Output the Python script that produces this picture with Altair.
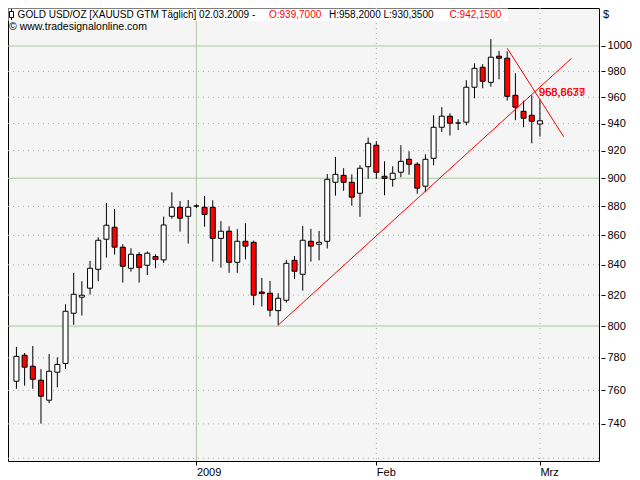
import altair as alt
import pandas as pd

# ---------------- data ----------------
dates = pd.bdate_range("2008-12-02", "2009-03-02").strftime("%d.%m.%Y").tolist()

opens = [765.6, 781.6, 774.8, 766.2, 754.1, 771.1, 776.5, 808.2, 818.6, 824.5,
         837.0, 857.3, 865.5, 851.9, 837.7, 846.9, 839.7, 845.6, 843.3, 873.1,
         879.4, 873.1, 880.3, 879.4, 879.4, 857.9, 862.8, 841.7, 855.9, 855.2,
         822.0, 821.2, 809.9, 816.6, 843.0, 833.7, 855.9, 853.9, 855.9, 897.1,
         902.1, 897.1, 889.3, 908.3, 924.0, 901.4, 899.2, 904.3, 913.7, 910.1,
         894.3, 914.4, 937.3, 945.6, 940.5, 941.1, 967.7, 983.2, 971.5, 991.9,
         990.3, 961.5, 949.3, 946.3, 939.7]
highs = [786.8, 783.0, 787.4, 773.0, 782.4, 780.3, 814.0, 834.6, 829.1, 842.6,
         858.6, 882.4, 878.2, 853.9, 851.2, 848.5, 849.0, 847.1, 872.9, 890.0,
         883.8, 884.5, 881.5, 887.3, 884.3, 869.7, 866.2, 864.2, 868.3, 856.3,
         831.3, 829.3, 821.2, 843.3, 845.9, 866.4, 864.4, 863.0, 903.0, 915.4,
         907.2, 902.8, 909.4, 929.6, 927.0, 912.2, 908.6, 924.0, 919.5, 911.5,
         917.3, 946.3, 952.4, 947.8, 943.3, 973.1, 986.3, 985.6, 1005.5, 996.1,
         995.8, 978.5, 957.4, 961.5, 958.2]
lows = [761.0, 762.9, 761.0, 740.1, 752.3, 761.9, 773.1, 800.8, 806.7, 820.3,
        829.1, 844.8, 846.9, 828.2, 835.4, 828.2, 833.2, 837.7, 841.2, 871.5,
        862.5, 854.3, 878.9, 865.9, 842.1, 838.1, 834.7, 834.7, 843.6, 813.4,
        812.5, 806.1, 800.4, 815.1, 830.6, 822.9, 842.1, 843.0, 851.0, 887.6,
        891.1, 880.5, 872.8, 899.6, 899.6, 887.9, 894.0, 900.7, 902.5, 889.0,
        890.0, 909.4, 933.8, 931.1, 935.2, 938.8, 959.2, 966.9, 968.1, 973.8,
        957.4, 942.6, 937.3, 925.4, 930.35]
closes = [780.9, 774.2, 766.8, 756.5, 771.7, 775.9, 809.5, 820.5, 819.9, 837.7,
          856.6, 866.9, 851.9, 839.0, 847.1, 838.3, 847.8, 843.6, 867.1, 879.4,
          871.8, 879.4, 880.3, 874.4, 857.9, 862.8, 841.7, 855.9, 852.6, 819.9,
          821.0, 810.2, 817.9, 841.0, 835.7, 856.6, 852.6, 855.2, 899.2, 902.8,
          897.1, 886.5, 907.2, 925.4, 904.3, 899.9, 903.6, 912.2, 910.1, 892.9,
          913.7, 937.3, 945.6, 940.3, 940.5, 967.7, 982.4, 972.3, 991.1, 990.3,
          960.7, 952.4, 944.1, 941.8, 942.15]

# price grid / axis labels
grid_values = [720, 740, 760, 780, 800, 820, 840, 860, 880, 900, 920, 940, 960, 980, 1000]
major_values = [800, 900, 1000]
label_values = [740, 760, 780, 800, 820, 840, 860, 880, 900, 920, 940, 960, 980, 1000]

# month ticks
month_labels = ["2009", "Feb", "Mrz"]
month_styles = ["solid", "dotted", "dotted"]

# trendlines (index, value)
trend_names = ["up", "up", "down", "down"]
trend_idx = [32, 67.86, 60, 66.9]
trend_val = [800.6, 990.2, 998.2, 930.3]

# line value labels
lbl_idx = [63.9, 63.9]
lbl_val = [963.5, 963.5]
lbl_text = ["968,6637", "958,8679"]

# header text segments
hdr_text = ["GOLD USD/OZ [XAUUSD GTM  Täglich] 02.03.2009 -", "O:939,7000",
            "H:958,2000 L:930,3500", "C:942,1500"]
hdr_color = ["black", "#ff0000", "black", "#ff0000"]
hdr_px = [9.6, 261, 321, 441.6]

# ---------------- build ----------------
FONT = "Liberation Sans"
RED = "#ff0000"
GREEN = "#a9c9a0"

df = pd.DataFrame({"i": list(range(len(dates))), "date": dates, "open": opens,
                   "high": highs, "low": lows, "close": closes})

month_idx = [i for i in range(1, len(dates)) if dates[i][3:5] != dates[i - 1][3:5]]
label_expr = " : ".join(f"datum.value == {v} ? '{t}'" for v, t in zip(month_idx, month_labels)) + " : ''"

xs = alt.Scale(domain=[-0.42, 70.61], nice=False, zero=False)
ys = alt.Scale(type="log", domain=[718.44, 1030.74], nice=False)

x_axis = alt.Axis(values=month_idx, labelExpr=label_expr, tickSize=4, labelAlign="left",
                  labelPadding=1, grid=False, domain=False, title=None,
                  labelFont=FONT, labelFontSize=11, labelColor="black", tickColor="black")
y_axis = alt.Axis(orient="right", values=label_values, format="d", tickSize=4, offset=2,
                  labelPadding=2, grid=False, domain=False, title=None,
                  labelFont=FONT, labelFontSize=11, labelColor="black", tickColor="black")

grid_df = pd.DataFrame({"v": grid_values, "major": [v in major_values for v in grid_values]})
hgrid_minor = alt.Chart(grid_df).transform_filter("!datum.major").mark_rule(
    color="#a8a8a8", strokeDash=[1, 4], strokeWidth=1).encode(y=alt.Y("v:Q", scale=ys, axis=y_axis))
hgrid_major = alt.Chart(grid_df).transform_filter("datum.major").mark_rule(
    color=GREEN, strokeWidth=1).encode(y=alt.Y("v:Q", scale=ys, axis=y_axis))

vg_df = pd.DataFrame({"i": month_idx, "style": month_styles})
vgrid_solid = alt.Chart(vg_df).transform_filter("datum.style == 'solid'").mark_rule(
    color=GREEN, strokeWidth=1).encode(x=alt.X("i:Q", scale=xs, axis=x_axis))
vgrid_dot = alt.Chart(vg_df).transform_filter("datum.style == 'dotted'").mark_rule(
    color="#a8a8a8", strokeDash=[1, 4], strokeWidth=1).encode(x=alt.X("i:Q", scale=xs, axis=x_axis))

wicks = alt.Chart(df).mark_rule(color="black", strokeWidth=1).encode(
    x=alt.X("i:Q", scale=xs, axis=x_axis),
    y=alt.Y("low:Q", scale=ys, axis=y_axis),
    y2="high:Q")

bodies = alt.Chart(df).mark_bar(size=5, stroke="black", strokeWidth=1).encode(
    x=alt.X("i:Q", scale=xs, axis=x_axis),
    y=alt.Y("open:Q", scale=ys, axis=y_axis),
    y2="close:Q",
    fill=alt.condition("datum.close >= datum.open", alt.value("white"), alt.value(RED)))

tr_df = pd.DataFrame({"name": trend_names, "i": trend_idx, "v": trend_val})
trends = alt.Chart(tr_df).mark_line(color=RED, strokeWidth=1).encode(
    x=alt.X("i:Q", scale=xs, axis=x_axis),
    y=alt.Y("v:Q", scale=ys, axis=y_axis),
    detail="name:N")

lb_df = pd.DataFrame({"i": lbl_idx, "v": lbl_val, "t": lbl_text})
labels = alt.Chart(lb_df).mark_text(align="left", baseline="middle", color=RED,
                                    font=FONT, fontSize=11).encode(
    x=alt.X("i:Q", scale=xs, axis=x_axis),
    y=alt.Y("v:Q", scale=ys, axis=y_axis),
    text="t:N")

one = pd.DataFrame({"a": [0]})
hdr_box = alt.Chart(one).mark_rect(fill="white").encode(
    x=alt.value(0.5), x2=alt.value(500), y=alt.value(0.5), y2=alt.value(13))
icon_line = alt.Chart(one).mark_rule(color="black", strokeWidth=1).encode(
    x=alt.value(3.5), y=alt.value(1), y2=alt.value(12))
icon_box = alt.Chart(one).mark_rect(fill="white", stroke="black", strokeWidth=1).encode(
    x=alt.value(1.5), x2=alt.value(5.5), y=alt.value(3.5), y2=alt.value(9.5))

hdr_df = pd.DataFrame({"t": hdr_text, "c": hdr_color, "px": hdr_px})
hdr = alt.Chart(hdr_df).mark_text(align="left", baseline="middle", font=FONT, fontSize=10).encode(
    x=alt.X("px:Q", scale=None), y=alt.value(7), text="t:N",
    color=alt.Color("c:N", scale=None))

copyright_txt = alt.Chart(one).mark_text(align="left", baseline="middle", font=FONT,
                                          fontSize=10.5, color="black").encode(
    x=alt.value(1), y=alt.value(18.5), text=alt.value("© www.tradesignalonline.com"))
dollar = alt.Chart(one).mark_text(align="left", baseline="middle", font=FONT,
                                  fontSize=11, color="black").encode(
    x=alt.value(595), y=alt.value(7), text=alt.value("$"))

chart = alt.layer(
    hgrid_minor, hgrid_major, vgrid_dot, vgrid_solid,
    wicks, bodies, trends, labels,
    hdr_box, icon_line, icon_box, hdr, copyright_txt, dollar
).properties(
    width=591, height=453,
    padding={"left": 0, "top": 0, "right": 33, "bottom": 19},
    autosize=alt.AutoSizeParams(type="none"),
    background="white",
).configure_view(
    stroke="black", strokeWidth=1, fill="#f5f5f5"
)

chart.save("out.html", embed_options={"renderer": "svg", "actions": False})
